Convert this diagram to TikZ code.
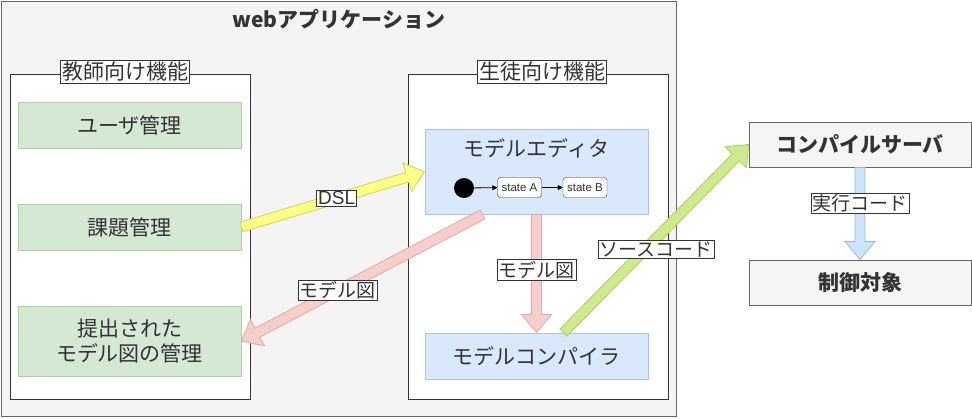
\documentclass[tikz,border=0pt]{standalone}
\usepackage{fontspec}
\setmainfont{Noto Sans CJK JP}
\newfontfamily\latinsans{Liberation Sans}
\usetikzlibrary{calc,arrows.meta}
\definecolor{txt}{HTML}{333333}
\definecolor{outerfill}{HTML}{F4F4F4}
\definecolor{outerdraw}{HTML}{666666}
\definecolor{gfill}{HTML}{D5E8D4}
\definecolor{gdraw}{HTML}{A9D39B}
\definecolor{bfill}{HTML}{DAE8FC}
\definecolor{bdraw}{HTML}{A9C4EB}
\definecolor{sfill}{HTML}{F5F5F5}
\definecolor{sdraw}{HTML}{666666}
\definecolor{yfill}{HTML}{FFFF88}
\definecolor{ydraw}{HTML}{D4D450}
\definecolor{pfill}{HTML}{F8CECC}
\definecolor{pdraw}{HTML}{E0A8A6}
\definecolor{lgfill}{HTML}{CDEB8B}
\definecolor{lgdraw}{HTML}{A8CC6A}
\definecolor{lbfill}{HTML}{CCE5FF}
\definecolor{lbdraw}{HTML}{94B8DE}
\newcommand\flexarr[4]{%
  \path (#1) coordinate (fa-s) (#2) coordinate (fa-e);
  \coordinate (fa-h) at ($(fa-e)!18pt!(fa-s)$);
  \draw[draw=#4, fill=#3, line width=0.8pt, line join=miter]
    ($(fa-s)!5pt!90:(fa-e)$) -- ($(fa-h)!5pt!-90:(fa-s)$) -- ($(fa-h)!15pt!-90:(fa-s)$)
    -- (fa-e) -- ($(fa-h)!15pt!90:(fa-s)$) -- ($(fa-h)!5pt!90:(fa-s)$)
    -- ($(fa-s)!5pt!-90:(fa-e)$) -- cycle;
}
\tikzset{
  boxbase/.style={inner sep=0pt, text=txt, align=center, font=\fontsize{21}{25}\selectfont},
  outerbox/.style={boxbase, draw=outerdraw, fill=outerfill, line width=1pt},
  panel/.style={boxbase, draw=txt, fill=white, line width=1pt},
  panellabel/.style={draw=txt, fill=white, text=txt, inner sep=1.5pt, line width=0.8pt, font=\fontsize{21}{24}\selectfont},
  greenbox/.style={boxbase, draw=gdraw, fill=gfill, line width=1pt, minimum width=223pt},
  bluebox/.style={boxbase, draw=bdraw, fill=bfill, line width=1pt, minimum width=223pt},
  graybox/.style={boxbase, draw=sdraw, fill=sfill, line width=1pt, minimum width=222pt, minimum height=45pt, font=\fontsize{21}{25}\selectfont\bfseries},
  elabel/.style={draw=txt, fill=white, text=txt, inner sep=1.5pt, line width=0.6pt, font=\fontsize{19}{22}\selectfont},
  statebox/.style={draw=txt, fill=white, rounded corners=3pt, text=txt, inner sep=0.5pt, minimum width=44pt, minimum height=20pt, font=\fontsize{11.5}{13}\latinsans},
  smallarr/.style={-{Triangle[length=5pt,width=5pt]}, draw=black, line width=0.8pt}
}
\begin{document}
\begin{tikzpicture}[x=1pt,y=-1pt]
\useasboundingbox (0,0) rectangle (972,418);
% outer web app
\node[outerbox, minimum width=675pt, minimum height=415pt] (web) at (338.5,208.5) {};
\node[text=txt, font=\fontsize{21}{25}\selectfont\bfseries] (webt) at (339,19) {webアプリケーション};
% panels
\node[panel, minimum width=240pt, minimum height=325pt] (tpanel) at (130,236.5) {};
\node[panel, minimum width=260pt, minimum height=325pt] (spanel) at (538,236.5) {};
\node[panellabel] (tlabel) at (125,72) {教師向け機能};
\node[panellabel] (slabel) at (542,72) {生徒向け機能};
% teacher boxes
\node[greenbox, minimum height=46pt] (user) at (129.5,125) {ユーザ管理};
\node[greenbox, minimum height=46pt] (task) at (129.5,227) {課題管理};
\node[greenbox, minimum height=70pt] (sub) at (129.5,341) {提出された\\モデル図の管理};
% student boxes
\node[bluebox, minimum height=85pt] (editor) at (536.5,171.5) {};
\node[text=txt, font=\fontsize{21}{25}\selectfont] (edt) at (536.5,148) {モデルエディタ};
\node[circle, fill=black, minimum size=20pt, inner sep=0pt] (init) at (464,188) {};
\node[statebox] (sa) at (519.5,187.5) {state A};
\node[statebox] (sb) at (585,187.5) {state B};
\draw[smallarr] (init) -- (sa);
\draw[smallarr] (sa) -- (sb);
\node[bluebox, minimum height=46pt] (comp) at (536.5,356) {モデルコンパイラ};
% right boxes
\node[graybox] (server) at (860,144.5) {コンパイルサーバ};
\node[graybox] (target) at (860,282.5) {制御対象};
% arrows
\coordinate (dslS) at (task.east);
\coordinate (dslE) at ([yshift=-0.5pt]editor.west);
\flexarr{dslS}{dslE}{yfill}{ydraw}
\coordinate (mdS) at ([xshift=-54pt]editor.south);
\coordinate (mdE) at (sub.east);
\flexarr{mdS}{mdE}{pfill}{pdraw}
\coordinate (vdS) at (editor.south);
\coordinate (vdE) at (comp.north);
\flexarr{vdS}{vdE}{pfill}{pdraw}
\coordinate (scS) at ([xshift=27pt]comp.north);
\coordinate (scE) at ([yshift=0pt]server.west);
\flexarr{scS}{scE}{lgfill}{lgdraw}
\coordinate (exS) at (server.south);
\coordinate (exE) at (target.north);
\flexarr{exS}{exE}{lbfill}{lbdraw}
% edge labels
\node[elabel, font=\fontsize{19}{22}\latinsans] (l1) at ($(dslS)!0.52!(dslE)$) {DSL};
\node[elabel] (l2) at ($(mdS)!0.6!(mdE)$) {モデル図};
\node[elabel] (l3) at ($(vdS)!0.47!(vdE)$) {モデル図};
\node[elabel] (l4) at ([yshift=-11pt]$(scS)!0.5!(scE)$) {ソースコード};
\node[elabel] (l5) at ([yshift=10pt]$(exS)!0.5!(exE)$) {実行コード};
\end{tikzpicture}
\end{document}
